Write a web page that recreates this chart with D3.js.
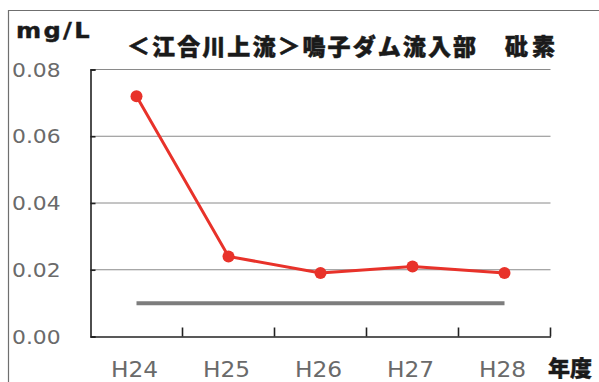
<!DOCTYPE html>
<html>
<head>
<meta charset="utf-8">
<script src="https://cdn.jsdelivr.net/npm/d3@7/dist/d3.min.js"></script>
<style>
  html, body { margin: 0; padding: 0; background: #fff; }
  svg { display: block; }
</style>
</head>
<body>
<svg id="chart" width="599" height="382"></svg>
<script>
// 年度ごとの砒素濃度 (mg/L)
const years = ["H24", "H25", "H26", "H27", "H28"];
const arsenic = [0.072, 0.024, 0.019, 0.021, 0.019];
// 参照線 (mg/L)
const reference = [0.01, 0.01, 0.01, 0.01, 0.01];
const yTicks = [0, 0.02, 0.04, 0.06, 0.08];
const yTickLabels = ["0.00", "0.02", "0.04", "0.06", "0.08"];

const svg = d3.select("#chart");
const plot = { left: 90.5, right: 550.5, top: 69.5, bottom: 336.5 };
const latin = "'DejaVu Sans', sans-serif";
const jp = "'Noto Sans CJK JP', sans-serif";

const x = d3.scaleBand().domain(years).range([plot.left, plot.right]).padding(0);
const y = d3.scaleLinear().domain([0, 0.08]).range([plot.bottom, plot.top]);
const cx = d => x(d) + x.bandwidth() / 2;

// 横に少し広げた文字を置く
function wideText(parent, px, py, sx, str) {
  return parent.append("g")
    .attr("transform", `translate(${px},${py}) scale(${sx},1)`)
    .append("text")
    .text(str);
}

// 外枠
svg.append("path")
  .attr("d", "M8.5,382 L8.5,10.5 L599,10.5")
  .attr("fill", "none").attr("stroke", "#6f6f6f").attr("stroke-width", 1.2);

// 横グリッド線
svg.append("g")
  .selectAll("line")
  .data(yTicks.slice(1))
  .join("line")
  .attr("x1", plot.left).attr("x2", plot.right)
  .attr("y1", d => y(d)).attr("y2", d => y(d))
  .attr("stroke", "#8a8a8a").attr("stroke-width", 1);

// Y軸
const yAxis = d3.axisLeft(y).tickValues(yTicks).tickSize(-5).tickFormat("");
svg.append("g")
  .attr("transform", `translate(${plot.left},0)`)
  .call(yAxis)
  .call(g => g.select(".domain").attr("stroke", "#222").attr("stroke-width", 1.6))
  .call(g => g.selectAll(".tick line").attr("stroke", "#222").attr("stroke-width", 1.6));

// Y目盛ラベル
const yLabels = svg.append("g");
yTicks.forEach((v, i) => {
  wideText(yLabels, 12, y(v) + 7, 1.12, yTickLabels[i])
    .style("font-family", latin)
    .attr("font-size", 19.5)
    .attr("fill", "#6a6a6a");
});

// X軸 (目盛は内向き、カテゴリ境界)
const xAxis = d3.axisBottom(x).tickSize(0).tickFormat("");
svg.append("g")
  .attr("transform", `translate(0,${plot.bottom})`)
  .call(xAxis)
  .call(g => g.select(".domain").attr("stroke", "#222").attr("stroke-width", 1.6));
svg.append("g")
  .selectAll("line")
  .data(years)
  .join("line")
  .attr("x1", d => x(d) + x.bandwidth()).attr("x2", d => x(d) + x.bandwidth())
  .attr("y1", plot.bottom).attr("y2", plot.bottom - 9)
  .attr("stroke", "#222").attr("stroke-width", 1.6);

// X目盛ラベル
const xLabels = svg.append("g");
years.forEach(d => {
  wideText(xLabels, cx(d) - 2, 377, 1.06, d)
    .style("font-family", latin)
    .attr("text-anchor", "middle")
    .attr("font-size", 22)
    .attr("fill", "#6a6a6a");
});

// 参照線
const line = d3.line().x((d, i) => cx(years[i])).y(d => y(d));
svg.append("path")
  .datum(reference)
  .attr("d", line)
  .attr("fill", "none")
  .attr("stroke", "#7d7d7d")
  .attr("stroke-width", 4);

// 砒素濃度の折れ線
svg.append("path")
  .datum(arsenic)
  .attr("d", line)
  .attr("fill", "none")
  .attr("stroke", "#e8322a")
  .attr("stroke-width", 3);

svg.append("g")
  .selectAll("circle")
  .data(arsenic)
  .join("circle")
  .attr("cx", (d, i) => cx(years[i]))
  .attr("cy", d => y(d))
  .attr("r", 6)
  .attr("fill", "#e8322a");

// 単位・タイトル・軸名
wideText(svg, 16, 38, 1.15, "mg/L")
  .style("font-family", latin)
  .attr("font-weight", "bold")
  .attr("font-size", 21)
  .attr("textLength", 64)
  .attr("lengthAdjust", "spacing")
  .attr("fill", "#1a1a1a")
  .attr("stroke", "#1a1a1a")
  .attr("stroke-width", 0.4);

svg.append("text")
  .style("font-family", jp)
  .attr("x", 127).attr("y", 55)
  .attr("font-weight", 900)
  .attr("font-size", 23)
  .attr("textLength", 349)
  .attr("lengthAdjust", "spacing")
  .attr("fill", "#1a1a1a")
  .attr("stroke", "#1a1a1a")
  .attr("stroke-width", 0.5)
  .text("＜江合川上流＞鳴子ダム流入部");

svg.append("text")
  .style("font-family", jp)
  .attr("x", 505).attr("y", 55)
  .attr("font-weight", 900)
  .attr("font-size", 23)
  .attr("textLength", 50)
  .attr("lengthAdjust", "spacing")
  .attr("fill", "#1a1a1a")
  .attr("stroke", "#1a1a1a")
  .attr("stroke-width", 0.5)
  .text("砒素");

svg.append("text")
  .style("font-family", jp)
  .attr("x", 548).attr("y", 376)
  .attr("font-weight", 900)
  .attr("font-size", 22)
  .attr("fill", "#1a1a1a")
  .attr("stroke", "#1a1a1a")
  .attr("stroke-width", 0.4)
  .text("年度");
</script>
</body>
</html>
